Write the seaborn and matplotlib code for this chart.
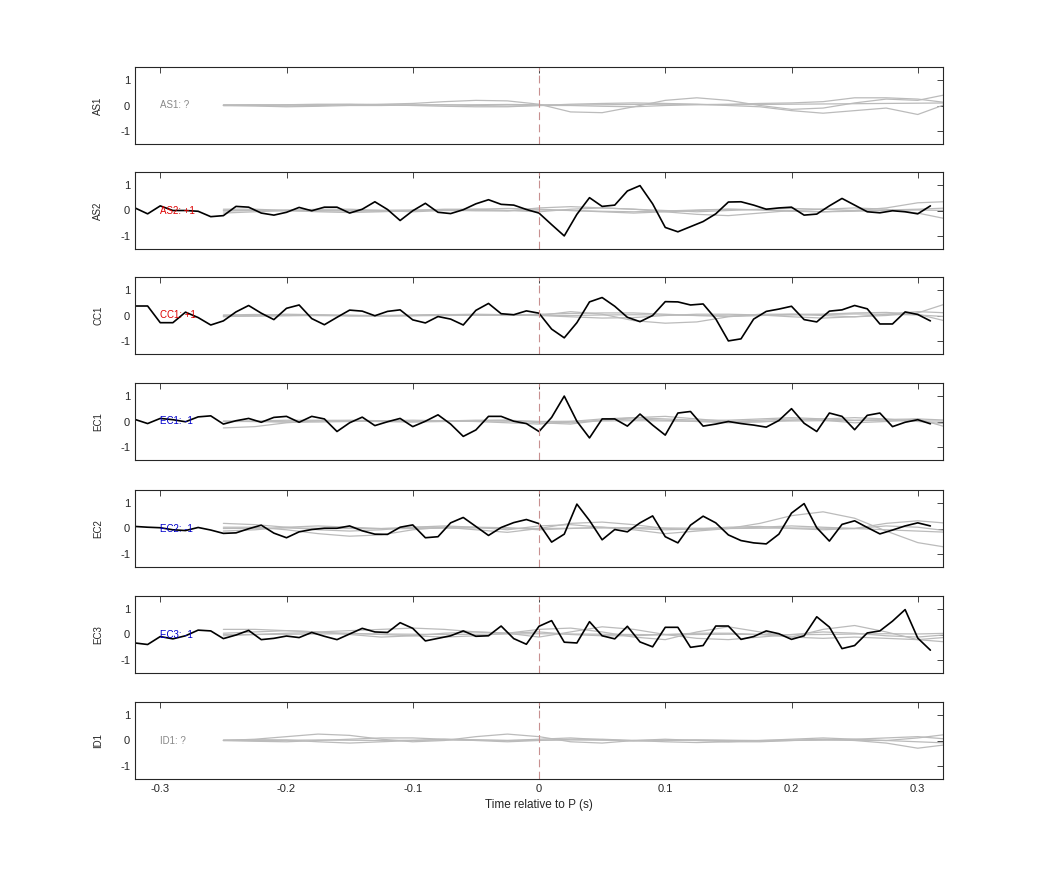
import numpy as np
import pandas as pd
import matplotlib
matplotlib.use("Agg")
import matplotlib.pyplot as plt
import seaborn as sns

sns.set_style("white")
plt.rcParams['font.family'] = ['Liberation Sans', 'DejaVu Sans']
plt.rcParams['axes.unicode_minus'] = False

stations = ["AS1", "AS2", "CC1", "EC1", "EC2", "EC3", "ID1"]
labels = ["AS1: ?", "AS2: +1", "CC1: +1", "EC1: -1", "EC2: -1", "EC3: -1", "ID1: ?"]
label_colors = ["#888888", "#dd0000", "#dd0000", "#0000cc", "#0000cc", "#0000cc", "#888888"]

# black trace time axis (s)
t_black = np.round(np.arange(-0.32, 0.315, 0.01), 2)
black = {
    "AS2": [0.1, -0.13, 0.18, 0, 0, -0.03, -0.24, -0.2, 0.16, 0.13, -0.1, -0.18, -0.07, 0.12, -0.01, 0.13,
            0.13, -0.1, 0.05, 0.34, 0.04, -0.39, -0.01, 0.28, -0.07, -0.12, 0.03, 0.26, 0.42, 0.24, 0.21, 0.04,
            -0.1, -0.55, -0.99, -0.15, 0.5, 0.16, 0.21, 0.76, 0.97, 0.26, -0.66, -0.83, -0.63, -0.43, -0.13, 0.33,
            0.34, 0.21, 0.05, 0.1, 0.13, -0.18, -0.14, 0.18, 0.47, 0.21, -0.05, -0.09, -0.01, -0.05, -0.13, 0.18],
    "CC1": [0.37, 0.37, -0.28, -0.28, 0.13, -0.08, -0.37, -0.21, 0.14, 0.39, 0.09, -0.16, 0.28, 0.41, -0.12, -0.36,
            -0.07, 0.21, 0.17, -0.01, 0.16, 0.22, -0.17, -0.29, -0.04, -0.14, -0.37, 0.2, 0.47, 0.07, 0.03, 0.18,
            0.09, -0.53, -0.87, -0.28, 0.53, 0.7, 0.36, -0.07, -0.24, 0.0, 0.54, 0.53, 0.41, 0.45, -0.13, -0.99,
            -0.91, -0.14, 0.16, 0.25, 0.36, -0.16, -0.25, 0.17, 0.22, 0.39, 0.26, -0.33, -0.33, 0.14, 0.04, -0.21],
    "EC1": [0.08, -0.08, 0.12, 0.07, -0.01, 0.18, 0.22, -0.1, 0.03, 0.12, -0.03, 0.16, 0.2, -0.03, 0.2, 0.1,
            -0.39, -0.05, 0.17, -0.16, -0.01, 0.12, -0.2, 0.01, 0.26, -0.1, -0.58, -0.33, 0.2, 0.2, 0.01, -0.08,
            -0.39, 0.16, 0.99, 0.01, -0.64, 0.1, 0.1, -0.18, 0.29, -0.14, -0.53, 0.33, 0.39, -0.18, -0.1, 0.0,
            -0.08, -0.14, -0.22, 0.04, 0.5, -0.07, -0.39, 0.33, 0.2, -0.32, 0.24, 0.33, -0.2, -0.03, 0.07, -0.09],
    "EC2": [0.08, 0.05, 0.03, -0.05, -0.08, 0.04, -0.06, -0.19, -0.17, -0.01, 0.13, -0.18, -0.36, -0.13, -0.04, 0.01,
            0.01, 0.1, -0.09, -0.22, -0.23, 0.05, 0.14, -0.36, -0.32, 0.22, 0.43, 0.08, -0.27, 0.04, 0.23, 0.35,
            0.19, -0.53, -0.22, 0.95, 0.31, -0.44, -0.04, -0.13, 0.22, 0.49, -0.32, -0.56, 0.13, 0.48, 0.22, -0.25,
            -0.47, -0.56, -0.6, -0.22, 0.6, 0.97, 0.03, -0.49, 0.16, 0.3, 0.04, -0.21, -0.06, 0.1, 0.22, 0.1],
    "EC3": [-0.33, -0.39, -0.08, -0.17, -0.05, 0.17, 0.14, -0.16, -0.02, 0.16, -0.2, -0.15, -0.06, -0.12, 0.08, -0.07,
            -0.2, 0.02, 0.24, 0.1, 0.08, 0.46, 0.24, -0.25, -0.15, -0.05, 0.14, -0.07, -0.05, 0.33, -0.16, -0.38,
            0.32, 0.54, -0.3, -0.33, 0.5, -0.05, -0.17, 0.32, -0.29, -0.48, 0.28, 0.28, -0.5, -0.43, 0.33, 0.33,
            -0.19, -0.08, 0.14, 0.03, -0.19, -0.05, 0.69, 0.29, -0.55, -0.43, 0.06, 0.14, 0.52, 0.97, -0.14, -0.61],
}

# gray (synthetic) trace time axis (s)
t_gray = np.round(np.arange(-0.25, 0.326, 0.025), 3)
gray = {
    "AS1": [
        [0, 0, -0.02, 0, 0.03, 0.05, 0.08, 0.15, 0.2, 0.18, 0.05, -0.25, -0.28, -0.05, 0.2, 0.3, 0.2, 0.0, -0.15, -0.1, 0.1, 0.25, 0.2, 0.45],
        [0, 0.02, 0.03, 0.05, 0.05, 0.03, 0, -0.03, -0.05, -0.05, 0, 0.05, 0.08, 0.1, 0.08, 0.05, 0, -0.05, -0.2, -0.3, -0.2, -0.1, -0.35, 0.1],
        [0, -0.02, -0.05, -0.03, 0, 0, 0.02, 0.03, 0, -0.02, 0, 0, -0.03, -0.05, 0, 0.03, 0.05, 0.08, 0.1, 0.15, 0.3, 0.3, 0.25, 0.1],
        [0.03, 0.03, 0.02, 0.03, 0.04, 0.03, 0.02, 0.02, 0.03, 0.04, 0.03, 0.02, 0.03, 0.04, 0.05, 0.04, 0.03, 0.04, 0.05, 0.06, 0.07, 0.08, 0.09, 0.1],
    ],
    "AS2": [
        [-0.1, -0.05, 0, 0.05, 0.05, 0, -0.05, 0, 0.05, 0.08, 0.05, 0, -0.05, -0.1, -0.05, 0, 0.05, 0.03, -0.02, -0.05, 0, 0.1, 0.3, 0.35],
        [0.05, 0.05, 0, -0.05, -0.08, -0.05, 0, 0.05, 0.05, 0, -0.05, 0.05, 0.1, 0.05, -0.05, -0.15, -0.2, -0.1, 0, 0.05, 0.1, 0.05, -0.1, -0.35],
        [-0.02, 0, 0.02, 0, -0.02, -0.03, 0, 0.02, 0, -0.02, 0.1, 0.15, 0.1, 0.05, 0, -0.05, 0, 0.05, 0.08, 0.05, 0, 0.02, 0.05, 0.1],
        [0, 0, -0.01, -0.02, 0, 0.01, 0.02, 0, -0.01, 0, 0.02, 0, -0.03, -0.05, -0.02, 0.02, 0.05, 0.02, -0.03, -0.05, -0.03, 0, 0.02, 0],
    ],
    "CC1": [
        [-0.05, 0, 0.05, 0.03, 0, -0.02, 0, 0.03, 0.05, 0.03, 0, 0.15, 0.05, -0.2, -0.3, -0.25, -0.05, 0.05, 0.05, 0, -0.05, 0, 0.1, 0.5],
        [0.02, 0.04, 0.02, 0, -0.02, 0, 0.02, 0.04, 0.02, 0, 0.05, 0.08, 0.1, 0.1, 0.05, 0, -0.03, 0, 0.05, 0.05, 0.1, 0.12, 0.05, -0.25],
        [0, -0.02, 0, 0.02, 0, -0.02, 0, 0.02, 0.03, 0.02, 0, -0.05, -0.1, -0.08, 0, 0.05, 0.05, 0.02, -0.05, -0.1, -0.05, 0.05, 0.15, 0.1],
        [-0.03, -0.02, -0.01, 0, 0.01, 0, -0.01, 0, 0.01, 0.02, 0.01, 0, 0.02, 0.03, 0.02, 0, -0.02, 0, 0.02, 0.04, 0.06, 0.05, 0.02, -0.05],
    ],
    "EC1": [
        [-0.25, -0.2, -0.05, 0.03, 0.05, 0.03, 0, 0.02, 0.05, 0.05, 0, -0.05, 0.05, 0.15, 0.2, 0.1, 0, 0.05, 0.1, 0.05, -0.05, 0, 0.1, -0.25],
        [0, 0.02, 0.05, 0.05, 0.03, 0, -0.02, 0, 0.03, 0.05, -0.05, -0.1, 0.05, 0.1, 0.05, 0, -0.05, -0.02, 0.05, 0.1, 0.15, 0.1, 0, -0.1],
        [0.02, 0, -0.03, -0.02, 0, 0.03, 0.05, 0.03, 0, -0.05, -0.1, 0, 0.1, 0.15, 0.1, 0.05, 0.05, 0.1, 0.15, 0.1, 0.05, 0.08, 0.1, 0.05],
        [0, 0, 0.01, 0.02, 0.01, 0, 0, 0.01, 0.02, 0.01, 0, 0.01, 0.02, 0.03, 0.02, 0.01, 0, 0.01, 0.02, 0.03, 0.04, 0.03, 0.02, 0.02],
    ],
    "EC2": [
        [0.2, 0.15, 0.05, -0.05, -0.1, -0.05, 0.05, 0.05, -0.05, -0.15, 0, 0.2, 0.25, 0.15, 0, -0.05, 0, 0.2, 0.5, 0.65, 0.4, -0.1, -0.55, -0.75],
        [0.05, 0.05, -0.05, -0.2, -0.3, -0.25, -0.05, 0.05, 0.05, 0.03, -0.05, 0, 0.05, -0.05, -0.2, -0.1, 0, 0.05, 0.1, 0.05, 0, 0.2, 0.3, 0.2],
        [-0.1, -0.05, 0.05, 0.1, 0.05, 0, 0.05, 0.1, 0.05, -0.05, 0.1, 0.15, 0.05, 0, -0.05, -0.02, 0.05, 0.08, 0, -0.05, 0, 0.1, 0.05, -0.1],
        [0, 0.01, 0.02, 0.01, 0, -0.01, 0, 0.01, 0.02, 0.01, 0, 0.01, 0.02, 0.03, 0.02, 0.01, 0, 0.01, 0.02, 0.01, 0, -0.05, -0.1, -0.15],
    ],
    "EC3": [
        [0.2, 0.2, 0.15, 0.1, 0.15, 0.2, 0.25, 0.2, 0.1, 0.05, 0.2, 0.25, 0.1, -0.1, -0.2, 0.1, 0.3, 0.1, -0.1, 0.2, 0.35, 0.1, -0.2, -0.3],
        [0.05, 0.1, 0.15, 0.1, 0, -0.1, -0.05, 0.05, 0.1, 0.05, -0.1, 0.1, 0.3, 0.2, 0, -0.15, -0.2, -0.1, 0, 0.1, 0.05, -0.05, -0.1, 0],
        [-0.05, 0, 0.05, 0.08, 0.05, 0, -0.05, -0.1, -0.05, 0.05, 0.1, 0, -0.05, -0.05, 0, 0.05, 0.05, 0, -0.1, -0.15, -0.1, -0.15, -0.2, -0.1],
        [0, 0, 0.01, 0.02, 0.03, 0.02, 0.01, 0, 0.01, 0.02, 0.03, 0.02, 0.01, 0, -0.01, 0, 0.01, 0, -0.01, 0, 0.02, 0.03, 0.02, 0.05],
    ],
    "ID1": [
        [0, 0.05, 0.15, 0.25, 0.2, 0.05, -0.05, 0, 0.15, 0.25, 0.15, -0.05, -0.1, 0, 0.05, 0, -0.05, -0.05, 0, 0.05, 0, -0.1, -0.3, -0.15],
        [0, -0.03, -0.05, 0, 0.05, 0.1, 0.1, 0.05, 0, -0.05, 0, 0.05, 0.05, 0, -0.05, -0.08, -0.05, 0, 0.05, 0.1, 0.05, 0, 0.1, 0.25],
        [0.02, 0.03, 0.02, -0.05, -0.1, -0.05, 0, 0.05, 0.03, 0, 0.05, 0.1, 0.03, -0.02, 0, 0.02, 0, -0.02, 0, 0.02, 0.05, 0.1, 0.15, 0.05],
        [0, 0, 0.01, 0.02, 0.01, 0, 0.01, 0.02, 0.01, 0, 0.01, 0.02, 0.01, 0, 0.01, 0.02, 0.01, 0, 0.01, 0.02, 0.01, 0, -0.05, -0.1],
    ],
}

W, H = 1042, 875
fig = plt.figure(figsize=(W / 100, H / 100), dpi=100)
tops = [67, 172, 277, 383, 490, 596, 702]
ph = 77
x0, x1 = 135, 943
for i, st in enumerate(stations):
    ax = fig.add_axes([x0 / W, 1 - (tops[i] + ph) / H, (x1 - x0) / W, ph / H])
    for g in gray[st]:
        df = pd.DataFrame({"t": t_gray, "v": g})
        sns.lineplot(data=df, x="t", y="v", ax=ax, color="#bbbbbb", lw=0.9, estimator=None)
    if st in black:
        df = pd.DataFrame({"t": t_black, "v": black[st]})
        sns.lineplot(data=df, x="t", y="v", ax=ax, color="black", lw=1.2, estimator=None)
    ax.axvline(0, color="#c89090", lw=0.8, dashes=(7, 4))
    ax.set_xlim(-0.32, 0.32)
    ax.set_ylim(-1.5, 1.5)
    ax.set_yticks([-1, 0, 1])
    ax.set_xticks([-0.3, -0.2, -0.1, 0, 0.1, 0.2, 0.3])
    ax.tick_params(direction="in", top=True, right=True, labelsize=8, length=4, width=0.6)
    ax.set_ylabel(st, fontsize=7, labelpad=12)
    ax.set_xlabel("")
    for s in ax.spines.values():
        s.set_linewidth(0.8)
    ax.text(-0.3, 0, labels[i], color=label_colors[i], fontsize=7, va="center", ha="left")
    if i < len(stations) - 1:
        ax.set_xticklabels([])
    else:
        ax.set_xticklabels(["-0.3", "-0.2", "-0.1", "0", "0.1", "0.2", "0.3"])
        ax.set_xlabel("Time relative to P (s)", fontsize=8.5)
fig.savefig("out.png", dpi=100)
